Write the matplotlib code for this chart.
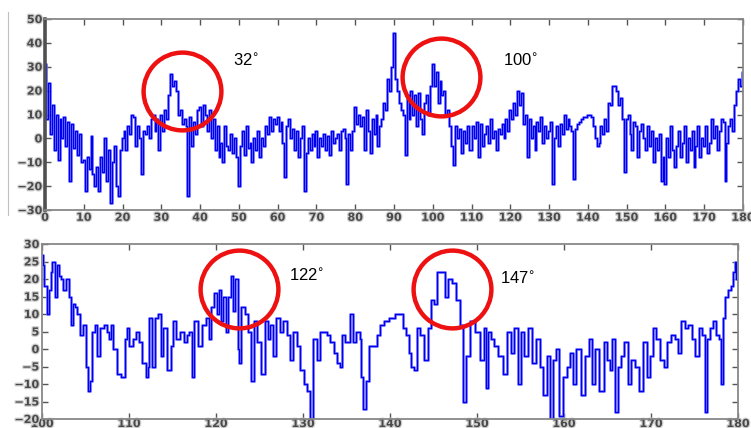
import numpy as np
import matplotlib
matplotlib.use('Agg')
import matplotlib.pyplot as plt
import matplotlib.patheffects as pe
from matplotlib.lines import Line2D

# top panel: angle 0..180 in 0.5 deg steps
top_step = 0.5
top_vals = [31, 8, 23, 2, 14, -5, 10, -9, 8, 0, 9, -3, 7, -18, 6, -4, 3, -7, 2, -10,
            -9, -22, -8, -13, 1, -15, -20, -12, -22, -8, -14, 0, -18, -5, -27, -10, -3, -20, -24, -5,
            0, 3, -5, 5, 2, 10, 9, -3, 5, 0, -15, 3, 2, 5, 0, 8, 10, 3, 8, -5,
            10, 3, 12, 8, 18, 27, 22, 24, 20, 10, 12, 6, 8, 5, -24, 9, -3, 7, 2, 12,
            13, 5, 14, 10, 3, 12, 0, 8, -5, 5, -8, -2, -10, 5, -3, -5, 2, -6, 0, -8,
            -20, -3, 3, -7, 5, -4, -2, -10, 0, -5, 3, -8, 0, -3, 5, 2, 9, 3, 8, 6,
            9, 3, 7, -2, -16, 5, 8, 0, 4, -5, 3, -8, 0, 5, -22, -6, 0, -5, 2, -3,
            3, -8, 0, -3, 2, -5, 1, -7, 3, -2, 0, 2, -5, 3, 4, 0, -19, 2, -5, 3,
            13, 6, 10, 5, 9, -5, 12, 3, -6, 8, 2, 10, -3, 5, 8, 15, 12, 25, 20, 30,
            44, 25, 20, 15, 12, 10, -7, 18, 8, 20, 10, 18, 5, 19, 8, 2, 15, 18, 10, 22,
            31, 22, 28, 15, 24, 18, 20, 10, 12, 5, -3, -11, 5, 0, 4, -6, 3, -2, 5, -5,
            -5, 5, 0, 7, -8, 6, -3, 2, 5, -2, 8, 0, 3, -5, 4, 2, 6, 0, 8, 3,
            12, 8, 15, 10, 20, 14, 19, 6, 10, -8, 8, 0, 5, -5, 7, 3, 9, -2, 5, 0,
            3, 7, -19, 0, 5, -3, 6, 2, 10, 4, 8, 5, 3, -17, 4, 6, 7, 8, 9, 9,
            10, 10, 9, 5, 0, -3, -2, 5, 2, 8, 3, 15, 14, 22, 22, 20, 14, 17, 8, -14,
            8, 10, 2, -5, 7, 5, -8, 3, 6, 0, -5, 5, -3, 3, -10, 0, -5, 2, -18, -8,
            -19, 0, -8, 5, -5, -12, -3, 3, -8, -2, 5, -10, 0, -5, 3, -12, -3, 5, -8, 0,
            -3, 5, -6, -2, 8, 0, 5, -5, 3, 8, 7, -18, -2, 5, 8, 3, 14, 20, 25, 22,
            28]

# bottom panel: zoom on 100..180
bot_x = [100.0, 100.2, 100.35, 100.7, 101.0, 101.1, 101.3, 101.6, 101.9, 102.1,
         102.3, 102.6, 102.9, 103.2, 103.5, 103.7, 103.9, 104.2, 104.6, 104.9,
         105.2, 105.4, 105.6, 105.9, 106.2, 106.5, 106.9, 107.3, 107.6, 107.8,
         108.0, 108.4, 108.8, 109.3, 109.7, 109.8, 110.2, 110.7, 111.0, 111.3,
         111.7, 112.1, 112.3, 112.4, 112.8, 113.1, 113.5, 113.8, 114.1, 114.7,
         114.9, 115.2, 115.6, 116.2, 116.5, 116.8, 117.1, 117.3, 117.7, 118.2,
         118.6, 119.0, 119.3, 119.6, 120.0, 120.2, 120.5, 120.7, 121.0, 121.2,
         121.6, 121.8, 122.0, 122.4, 122.55, 122.7, 123.1, 123.5, 123.8, 124.2,
         124.5, 125.0, 125.4, 125.8, 126.1, 126.4, 126.7, 127.1, 127.5, 128.0,
         128.3, 128.7, 129.1, 129.5, 129.9, 130.3, 130.6, 131.0, 131.4, 131.8,
         132.2, 132.6, 132.9, 133.4, 133.8, 134.1, 134.4, 134.6, 135.1, 135.6,
         135.9, 136.4, 136.6, 136.8, 137.1, 137.4, 137.7, 138.2, 138.7, 139.0,
         139.6, 140.2, 140.9, 141.3, 141.6, 142.0, 142.3, 142.6, 142.9, 143.3,
         143.7, 144.1, 144.6, 144.9, 145.2, 145.6, 146.2, 146.5, 146.9, 147.3,
         147.8, 148.2, 148.5, 149.0, 149.5, 150.1, 150.7, 150.9, 151.1, 151.4,
         151.8, 152.2, 152.7, 153.2, 153.7, 154.1, 154.5, 154.9, 155.2, 155.6,
         156.1, 156.5, 157.0, 157.4, 157.8, 158.2, 158.6, 158.8, 159.3, 159.6,
         160.1, 160.5, 160.9, 161.2, 161.6, 162.2, 162.6, 163.1, 163.4, 163.8,
         164.3, 164.8, 165.1, 165.4, 165.7, 166.1, 166.4, 166.8, 167.1, 167.5,
         168.0, 168.4, 168.8, 169.3, 169.7, 170.0, 170.4, 170.8, 171.3, 171.6,
         172.0, 172.6, 173.0, 173.3, 173.7, 174.1, 174.5, 174.9, 175.3, 175.7,
         176.0, 176.3, 176.6, 176.9, 177.3, 177.7, 178.0, 178.2, 178.4, 178.7,
         179.0, 179.3, 179.5, 179.7, 179.9]
bot_vals = [27, 24, 18, 10, 17, 22, 25, 15, 24, 21,
            20, 17, 20, 15, 7, 13, 12, 10, 4, 7,
            -5, -12, -9, 5, 7, -2, 6, 7, 5, 3,
            7, 0, -7, -8, 3, 6, 1, 3, 5, 2,
            -4, -8, -5, 9, -5, 9, 10, -2, 6, -6,
            1, 8, 3, 5, 2, 4, 5, -8, 8, 1,
            7, 9, 3, 12, 16, 10, 17, 8, 15, 5,
            15, 21, 11, 20, 0, -4, 12, 10, 5, -9,
            8, 2, -7, 8, 3, 7, -2, 9, 5, 8,
            4, -3, 5, 1, -6, -10, -12, -20, 3, -3,
            5, 5, 4, 2, -1, -4, -5, 4, 2, 10,
            2, 5, 3, -8, -17, -9, 1, 1, 4, 7,
            8, 9, 10, 10, 6, 4, -1, -5, -6, 6,
            4, -3, 6, 14, 13, 22, 22, 15, 20, 19,
            14, 7, -15, -2, 8, 5, -3, 6, -11, 5,
            3, 1, -2, -7, 5, -1, 6, -10, 5, -2,
            6, -4, 3, -5, -13, -2, -20, -3, 0, -19,
            -8, -5, -1, -10, 0, -13, -2, 3, -10, 0,
            -12, 2, -3, -6, 3, -18, -5, -2, 2, -10,
            -3, -5, -12, 2, -8, -2, 6, 3, -3, -5,
            2, 4, 3, -1, 8, 6, 7, 3, -2, 6,
            4, -18, 3, 6, 8, 4, 3, -10, 9, 15,
            17, 18, 22, 25, 20]

top_ticks_x = list(range(0, 181, 10))
top_ticks_y = list(range(-30, 51, 10))
bot_ticks_x = list(range(100, 181, 10))
bot_ticks_y = list(range(-20, 31, 5))

# red circles (data coords) and their labels
top_marks = [(35.3, 19.8), (102.1, 25.7)]
top_labels = [(48.5, 32.8, '32'), (118.1, 32.8, '100')]
bot_marks = [(122.6, 17.1), (147.1, 17.1)]
bot_labels = [(128.4, 21.1, '122'), (152.6, 20.3, '147')]

top_x = np.arange(len(top_vals)) * top_step

fig = plt.figure(figsize=(7.51, 4.28), dpi=100)
ax1 = fig.add_axes([0.0599, 0.5093, 0.9294, 0.4463])
ax2 = fig.add_axes([0.0559, 0.0210, 0.9268, 0.4089])

halo = [pe.withStroke(linewidth=1.8, foreground='#cfcfcf')]


def style_axes(ax, xt, yt, xlim, ylim):
    ax.set_xlim(*xlim)
    ax.set_ylim(*ylim)
    ax.set_xticks(xt)
    ax.set_yticks(yt)
    ax.tick_params(direction='in', length=4, width=1, color='#555555',
                   top=True, right=True, labelsize=8, labelcolor='#4a4a4a', pad=2)
    for lab in ax.get_xticklabels() + ax.get_yticklabels():
        lab.set_fontweight('bold')
        lab.set_path_effects(halo)
    for s in ax.spines.values():
        s.set_color('#888888')
        s.set_linewidth(1.3)


def draw_signal(ax, x, y):
    ax.plot(x, y, drawstyle='steps-mid', color='#8080ff', lw=2.2, alpha=0.8)
    ax.plot(x, y, drawstyle='steps-mid', color='#0000f0', lw=1.0)


draw_signal(ax1, top_x, top_vals)
style_axes(ax1, top_ticks_x, top_ticks_y, (0, 180), (-30, 50))
ax1.spines['left'].set_color('#505050')
ax1.spines['left'].set_linewidth(2.6)

draw_signal(ax2, bot_x, bot_vals)
style_axes(ax2, bot_ticks_x, bot_ticks_y, (100, 180), (-20, 30))
ax2.tick_params(axis='x', pad=0)

for ax, marks, labels in [(ax1, top_marks, top_labels), (ax2, bot_marks, bot_labels)]:
    for cx, cy in marks:
        ax.plot([cx], [cy], 'o', ms=56, mfc='none', mec='#ee1111', mew=3.2, zorder=5)
    for tx, ty, t in labels:
        ax.text(tx, ty, t + r'$^{\circ}$', fontsize=12, family='Liberation Sans',
                ha='left', va='center', color='black')

# thin frame line at far left of the picture
fig.add_artist(Line2D([8 / 751, 8 / 751], [1 - 12 / 428, 1 - 215 / 428],
                      transform=fig.transFigure, color='#c0c0c0', lw=0.8))

fig.savefig('out.png', dpi=100)
